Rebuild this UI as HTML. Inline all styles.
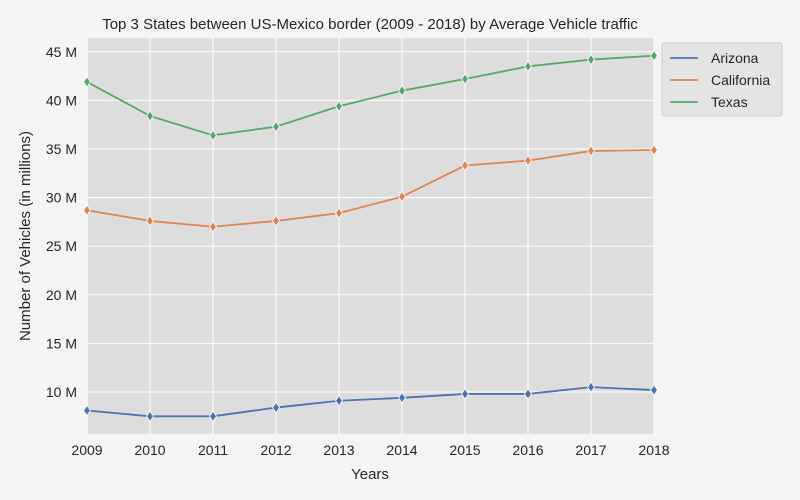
<!DOCTYPE html>
<html><head><meta charset="utf-8"><style>
body{margin:0;background:#f4f4f4;}
svg{display:block;font-family:"Liberation Sans",sans-serif;}
</style></head><body>
<svg id="chart" width="800" height="500" viewBox="0 0 800 500">
<rect width="800" height="500" fill="#f4f4f4"/>
<rect x="87" y="38" width="567" height="396" fill="#dddddd"/>
<g id="grid"></g>
<g id="series"></g>
<g id="ticks" font-size="14" fill="#262626"></g>
<text x="370" y="29" text-anchor="middle" font-size="15" fill="#262626">Top 3 States between US-Mexico border (2009 - 2018) by Average Vehicle traffic</text>
<text x="370" y="479" text-anchor="middle" font-size="15" fill="#262626">Years</text>
<text transform="translate(30,236) rotate(-90)" text-anchor="middle" font-size="15" fill="#262626">Number of Vehicles (in millions)</text>
<g>
<rect x="662" y="43" width="120" height="73" fill="#e4e4e4" stroke="#cccccc" rx="2"/>
<g id="legend"></g>
</g>
</svg>
<script>
const years=[2009,2010,2011,2012,2013,2014,2015,2016,2017,2018];
const arizona=[8.1,7.5,7.5,8.4,9.1,9.4,9.8,9.8,10.5,10.2];
const california=[28.7,27.6,27.0,27.6,28.4,30.1,33.3,33.8,34.8,34.9];
const texas=[41.9,38.4,36.4,37.3,39.4,41.0,42.2,43.5,44.2,44.6];
const yTicks=[10,15,20,25,30,35,40,45];
const seriesNames=["Arizona","California","Texas"];
const seriesColors=["#4c72b0","#dd8452","#55a868"];
const ns="http://www.w3.org/2000/svg";
const X=v=>87+(v-2009)*(654-87)/9;
const Y=v=>392-(v-10)*9.72;
function mk(t,a,p){const e=document.createElementNS(ns,t);for(const k in a)e.setAttribute(k,a[k]);p.appendChild(e);return e;}
const grid=document.getElementById('grid'),ticks=document.getElementById('ticks');
years.forEach(y=>{
 const l=mk('line',{x1:X(y),x2:X(y),y1:38,y2:434,stroke:'#fff','stroke-width':1},grid);
 
 
 const t=mk('text',{x:X(y),y:455,'text-anchor':'middle'},ticks);t.textContent=y;
 
 
});
yTicks.forEach(v=>{
 const l=mk('line',{x1:87,x2:654,y1:Y(v),y2:Y(v),stroke:'#fff','stroke-width':1},grid);
 
 
 const t=mk('text',{x:77,y:Y(v)+5,'text-anchor':'end'},ticks);t.textContent=v+' M';
 
 
});
const sg=document.getElementById('series'),lg=document.getElementById('legend');
[arizona,california,texas].forEach((d,i)=>{
 const c=seriesColors[i];
 const p=mk('polyline',{points:d.map((v,j)=>X(years[j])+','+Y(v)).join(' '),fill:'none',stroke:c,'stroke-width':1.8},sg);
 
 
 d.forEach((v,j)=>{
  const x=X(years[j]),y=Y(v);
  const m=mk('polygon',{points:`${x},${y-5} ${x+3.5},${y} ${x},${y+5} ${x-3.5},${y}`,fill:c,stroke:'#fff','stroke-width':0.8},sg);
  
  
 });
 const ly=58+i*22;
 const ll=mk('line',{x1:670,x2:698,y1:ly,y2:ly,stroke:c,'stroke-width':1.8},lg);
 
 
 const lt=mk('text',{x:711,y:ly+5,'font-size':14,fill:'#262626'},lg);lt.textContent=seriesNames[i];
 
 
});
</script>
</body></html>
